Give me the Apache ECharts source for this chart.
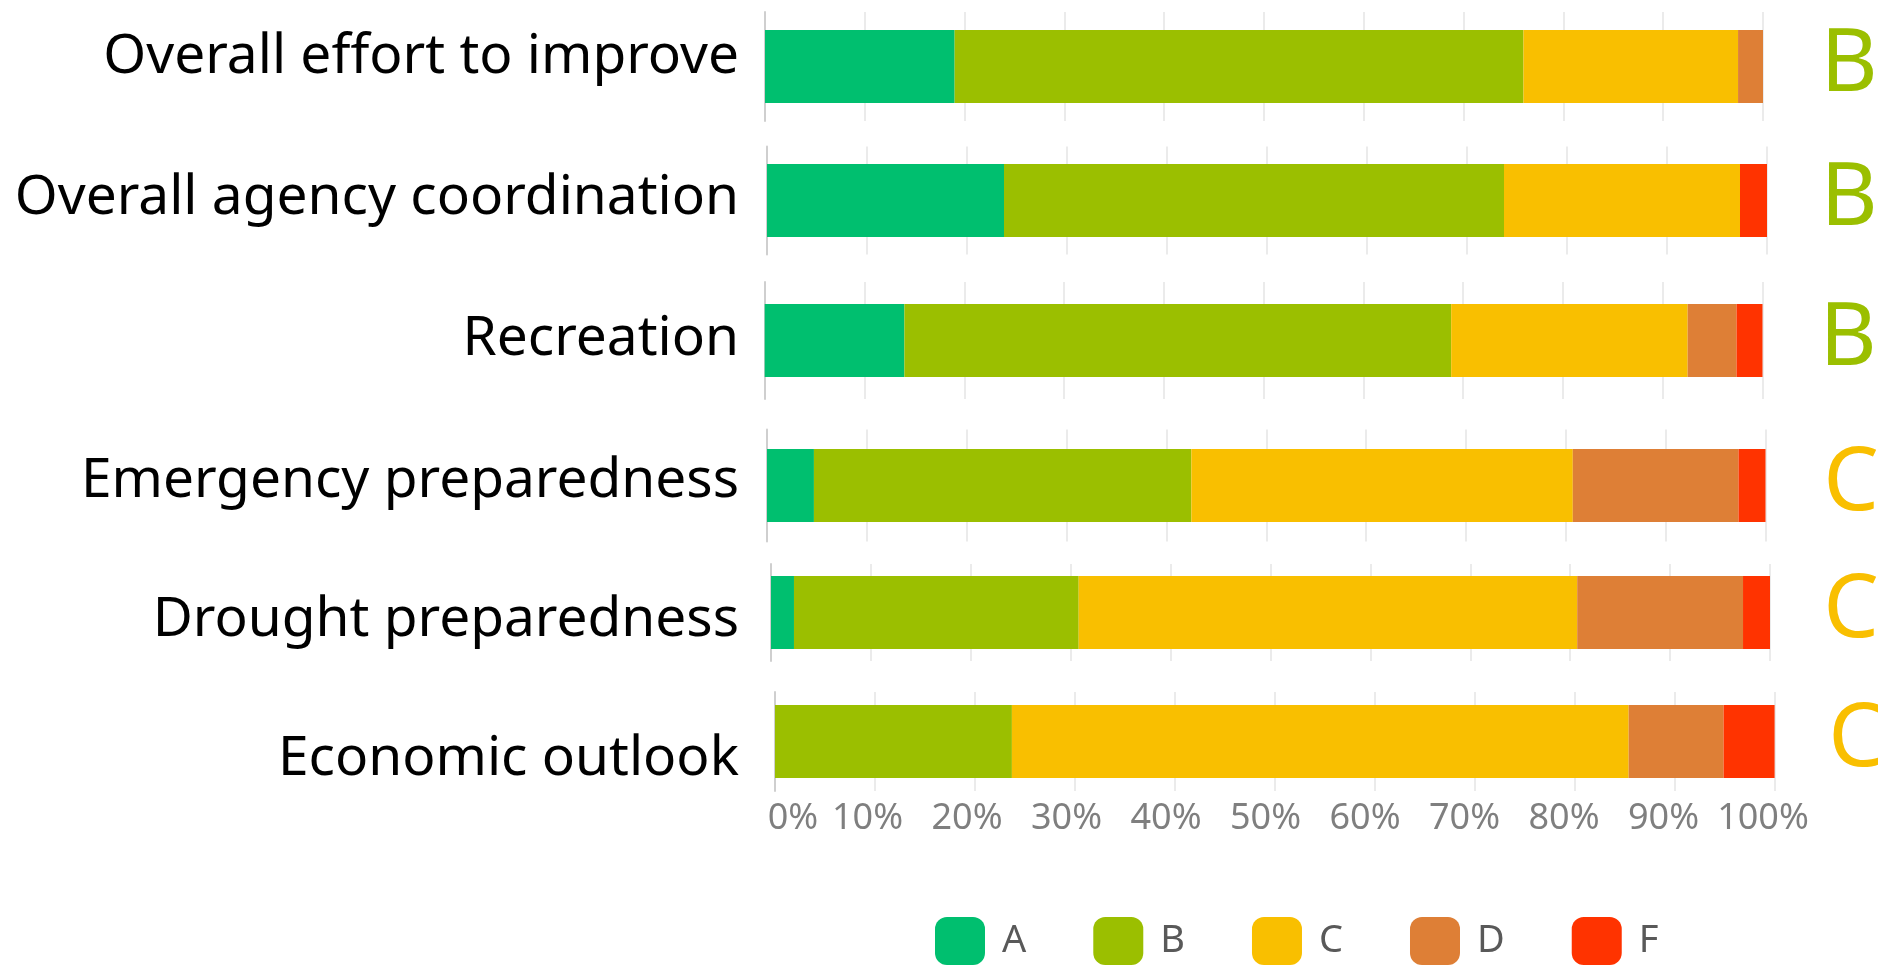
<!DOCTYPE html>
<html><head><meta charset="utf-8">
<script src="https://cdn.jsdelivr.net/npm/echarts@6/dist/echarts.min.js"></script>
<style>html,body{margin:0;padding:0;background:#fff}#c{width:1878px;height:967px}</style>
</head><body><div id="c"></div>
<script>
// ---- data ----
const categories = ['Overall effort to improve','Overall agency coordination','Recreation','Emergency preparedness','Drought preparedness','Economic outlook'];
const grades = ['B','B','B','C','C','C'];
const seriesNames = ['A','B','C','D','F'];
const valuesA = [19.0, 23.7, 14.0, 4.7, 2.3, 0];
const valuesB = [57.0, 50.0, 54.8, 37.8, 28.5, 23.7];
const valuesC = [21.5, 23.6, 23.7, 38.2, 49.9, 61.7];
const valuesD = [2.5, 0, 4.9, 16.6, 16.6, 9.5];
const valuesF = [0, 2.7, 2.6, 2.7, 2.7, 5.1];
const tickStep = 10; // percent

// ---- styling / layout ----
const colors = {A:'#00BF6F', B:'#9BBF00', C:'#F9BF00', D:'#DE7F36', F:'#FF3300'};
const gradeColors = {B:'#9BBF00', C:'#F9BF00'};
const FONT = 'Noto Sans';
const layout = [
  {x0:765,   x100:1763,   cy:66.4,  half:54.5, shift:-9, gx:1849},
  {x0:767,   x100:1767,   cy:200.4, half:54,   shift:-2, gx:1849},
  {x0:764.7, x100:1762.5, cy:340.4, half:58.5, shift:-1, gx:1848},
  {x0:767,   x100:1765.5, cy:485.4, half:56,   shift:-4, gx:1851},
  {x0:771,   x100:1770,   cy:612.4, half:48.5, shift:8,  gx:1851},
  {x0:775,   x100:1774.6, cy:741.4, half:49.5, shift:18, gx:1856}
];
const W = 1878;
const allVals = [valuesA, valuesB, valuesC, valuesD, valuesF];

const grid = [], xAxis = [], yAxis = [], series = [];
layout.forEach((L, i) => {
  grid.push({left:L.x0, right:W - L.x100, top:L.cy - L.half, height:2*L.half,
             containLabel:false, outerBoundsMode:'none'});
  xAxis.push({
    type:'value', gridIndex:i, min:0, max:100, interval:tickStep,
    axisLine:{show:false}, axisTick:{show:false},
    splitLine:{show:true, lineStyle:{color:'#ebebeb', width:2}},
    axisLabel:{show:false}
  });
  const pad = L.shift < 0 ? [0,0,-2*L.shift,0] : [2*L.shift,0,0,0];
  yAxis.push({
    type:'category', gridIndex:i, data:[categories[i]],
    axisLine:{show:true, lineStyle:{color:'#cfcfcf', width:2}},
    axisTick:{show:false},
    axisLabel:{show:true, margin:L.x0 - 739,
               formatter: v => '{t|' + v + '}',
               rich:{t:{fontSize:55, color:'#000', fontFamily:FONT, padding:pad}}}
  });
  yAxis.push({
    type:'category', gridIndex:i, position:'right', data:[grades[i]],
    axisLine:{show:false}, axisTick:{show:false},
    axisLabel:{show:true, fontSize:88, color:gradeColors[grades[i]], fontFamily:FONT,
               margin:L.gx - L.x100, align:'center'}
  });
  seriesNames.forEach((name, k) => {
    series.push({
      name, type:'bar', stack:'row' + i, xAxisIndex:i, yAxisIndex:2*i,
      barWidth:73, itemStyle:{color:colors[name]},
      data:[allVals[k][i]], silent:true
    });
  });
});

// percentage tick labels (shared scale strip under the last row)
grid.push({left:768, right:W - 1763, top:790, height:1, containLabel:false, outerBoundsMode:'none'});
xAxis.push({
  type:'value', gridIndex:layout.length, min:0, max:100, interval:tickStep,
  axisLine:{show:false}, axisTick:{show:false}, splitLine:{show:false},
  axisLabel:{show:true, margin:10,
    formatter: v => v === 0 ? '{a|0%}' : '{b|' + v + '%}',
    rich:{
      a:{fontSize:36, color:'#7f7f7f', fontFamily:FONT, padding:[0,0,0,50]},
      b:{fontSize:36, color:'#7f7f7f', fontFamily:FONT}
    }}
});
yAxis.push({type:'category', gridIndex:layout.length, data:[''], show:false});

const chart = echarts.init(document.getElementById('c'));
chart.setOption({
  animation:false,
  backgroundColor:'#fff',
  legend:{
    data:seriesNames, left:930, top:912, itemWidth:50, itemHeight:48, itemGap:67,
    icon:'roundRect',
    textStyle:{fontSize:38, color:'#595959', fontFamily:FONT, width:30, padding:[0,0,0,12]}
  },
  grid, xAxis, yAxis, series
});
</script></body></html>
